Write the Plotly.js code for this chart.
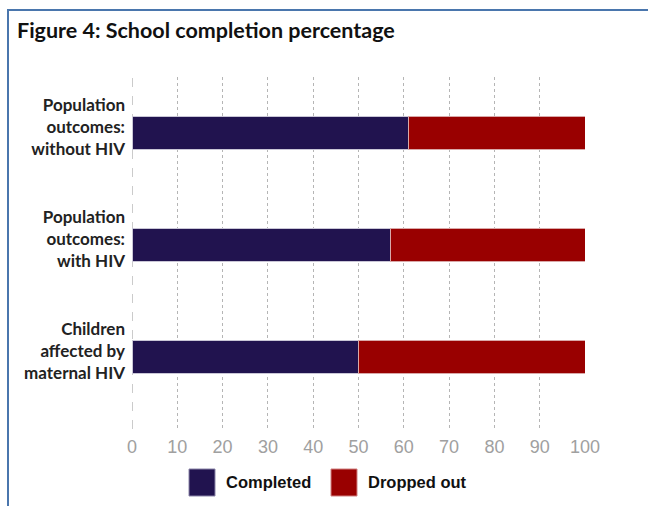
<!DOCTYPE html>
<html>
<head>
<meta charset="utf-8">
<script src="https://cdn.plot.ly/plotly-3.0.1.min.js"></script>
<style>
  html, body { margin: 0; padding: 0; background: #ffffff; }
  #wrap { position: relative; width: 648px; height: 506px; }
  #chart { position: absolute; left: 0; top: 0; width: 648px; height: 506px; }
  #frame { position: absolute; left: 7px; top: 9px; width: 641px; height: 497px;
           border-top: 2px solid #4a76ad; border-left: 2px solid #4a76ad;
           box-sizing: border-box; pointer-events: none; }
</style>
</head>
<body>
<div id="wrap">
  <div id="chart"></div>
  <div id="frame"></div>
</div>
<script>
// ---- data ----
const categories = [
  "Children<br>affected by<br>maternal HIV",
  "Population<br>outcomes:<br>with HIV",
  "Population<br>outcomes:<br>without HIV"
];
const completed = [50, 57, 61];
const droppedOut = [50, 43, 39];
const seriesNames = ["Completed", "Dropped out"];
const xTicks = [0, 10, 20, 30, 40, 50, 60, 70, 80, 90, 100];
const titleText = "Figure 4: School completion percentage";

// ---- styling ----
const colors = ["#21134f", "#990000"];
const W = 648, H = 506;
const L = 132, R = 63, T = 77, B = 77;
const plotW = W - L - R, plotH = H - T - B;
const px2x = p => (p - L) / plotW;
const py2y = p => (H - B - p) / plotH;

const boldLabels = categories.map(c => "<b>" + c.split("<br>").join("</b><br><b>") + "</b>");

const traces = [
  {
    type: "bar", orientation: "h", name: seriesNames[0],
    y: boldLabels, x: completed,
    marker: { color: colors[0], line: { color: "#c9c6d6", width: 1 } },
    showlegend: false, hoverinfo: "x+name"
  },
  {
    type: "bar", orientation: "h", name: seriesNames[1],
    y: boldLabels, x: droppedOut,
    marker: { color: colors[1], line: { color: "#d9a8a8", width: 1 } },
    showlegend: false, hoverinfo: "x+name"
  }
];

// legend drawn manually (large swatches)
const legendSw = [[189, 215], [331, 357]];
const legendTextX = [224, 366];
const legY0 = 469, legY1 = 496;
const shapes = [
  { type: "line", xref: "x", yref: "paper", x0: 0, x1: 0, y0: 0, y1: 1,
    line: { color: "#a8a8a8", width: 1.2, dash: "dash" }, layer: "below" }
];
const annotations = [];
seriesNames.forEach((n, i) => {
  shapes.push({
    type: "rect", xref: "paper", yref: "paper",
    x0: px2x(legendSw[i][0]), x1: px2x(legendSw[i][1]),
    y0: py2y(legY1), y1: py2y(legY0),
    fillcolor: colors[i], line: { color: i === 0 ? "#8a84a8" : "#d08080", width: 1 }
  });
  annotations.push({
    xref: "paper", yref: "paper", x: px2x(legendTextX[i]), y: py2y((legY0 + legY1) / 2),
    xanchor: "left", yanchor: "middle", showarrow: false,
    text: "<b>" + n + "</b>",
    font: { family: "Liberation Sans, Arial, sans-serif", size: 16.5, color: "#111111" }
  });
});

const layout = {
  width: W, height: H,
  margin: { l: L, r: R, t: T, b: B, pad: 0 },
  paper_bgcolor: "#ffffff", plot_bgcolor: "#ffffff",
  barmode: "stack", bargap: 0.705,
  title: {
    text: "<b>" + titleText + "</b>",
    x: 17 / W, xanchor: "left", xref: "container",
    y: 1 - 30 / H, yanchor: "middle", yref: "container",
    font: { family: "Lato, 'Open Sans', sans-serif", size: 21.5, color: "#111111" }
  },
  xaxis: {
    range: [0, 100], tickvals: xTicks, ticktext: xTicks.map(String),
    showgrid: true, gridcolor: "#b5b5b5", griddash: "dot", gridwidth: 1,
    zeroline: false, showline: false, ticks: "",
    ticklabelstandoff: 5,
    tickfont: { family: "Liberation Sans, Arial, sans-serif", size: 18, color: "#a0a0a0" },
    fixedrange: true
  },
  yaxis: {
    range: [-0.643, 2.5], showgrid: false, zeroline: false, showline: false, ticks: "",
    ticklabelstandoff: 6, ticklabelshift: -6,
    tickfont: { family: "Lato, 'Open Sans', sans-serif", size: 17, color: "#222222" },
    fixedrange: true
  },
  shapes: shapes,
  annotations: annotations,
  showlegend: false
};

Plotly.newPlot("chart", traces, layout, { displayModeBar: false, staticPlot: true });
</script>
</body>
</html>
